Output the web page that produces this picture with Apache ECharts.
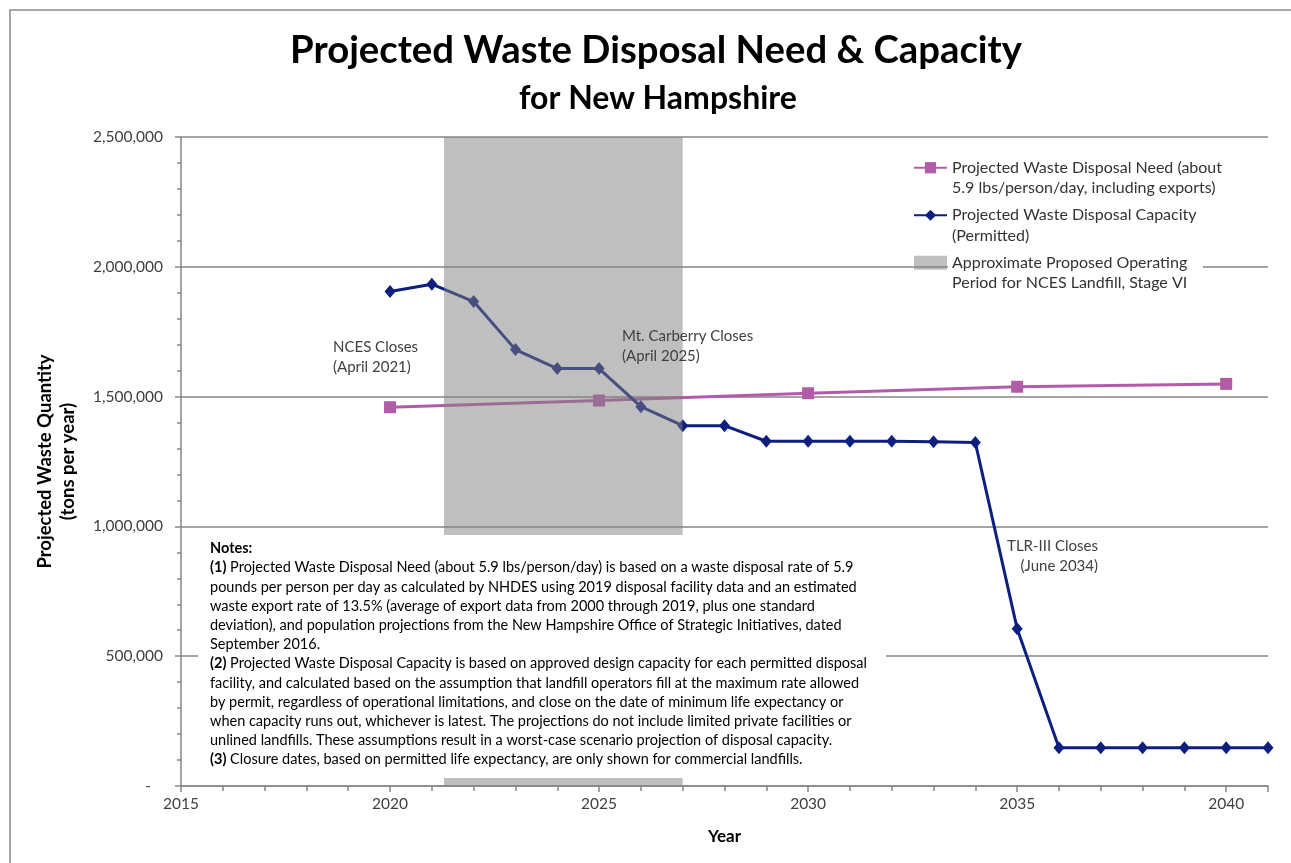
<!DOCTYPE html>
<html lang="en">
<head>
    <meta charset="UTF-8">
    <title>Projected Waste Disposal Need & Capacity</title>
    <style>
        html, body { margin: 0; padding: 0; background: #fff; }
        #chart { width: 1291px; height: 863px; }
    </style>
</head>
<body>
<div id="chart"></div>
<script src="https://cdn.jsdelivr.net/npm/echarts@6/dist/echarts.min.js"></script>
<script>
    // data
    var needYears = [2020, 2025, 2030, 2035, 2040];
    var needValues = [1459000, 1485000, 1513000, 1538000, 1549000];

    var capYears = [2020, 2021, 2022, 2023, 2024, 2025, 2026, 2027, 2028, 2029, 2030,
        2031, 2032, 2033, 2034, 2035, 2036, 2037, 2038, 2039, 2040, 2041];
    var capValues = [1905000, 1933000, 1866000, 1681000, 1608000, 1608000, 1461000, 1388000, 1388000, 1328000, 1328000,
        1328000, 1328000, 1326000, 1323000, 606000, 147000, 147000, 147000, 147000, 147000, 147000];

    // approximate proposed operating period, NCES Stage VI
    var bandPeriod = [2021.29, 2027];

    var needName = 'Projected Waste Disposal Need (about\n5.9 lbs/person/day, including exports)';
    var capName = 'Projected Waste Disposal Capacity\n(Permitted)';
    var bandName = 'Approximate Proposed Operating\nPeriod for NCES Landfill, Stage VI';

    var notesText = [
        '{b|Notes:}',
        '{b|(1)} Projected Waste Disposal Need (about 5.9 lbs/person/day) is based on a waste disposal rate of 5.9',
        'pounds per person per day as calculated by NHDES using 2019 disposal facility data and an estimated',
        'waste export rate of 13.5% (average of export data from 2000 through 2019, plus one standard',
        'deviation), and population projections from the New Hampshire Office of Strategic Initiatives, dated',
        'September 2016.',
        '{b|(2)} Projected Waste Disposal Capacity is based on approved design capacity for each permitted disposal',
        'facility, and calculated based on the assumption that landfill operators fill at the maximum rate allowed',
        'by permit, regardless of operational limitations, and close on the date of minimum life expectancy or',
        'when capacity runs out, whichever is latest. The projections do not include limited private facilities or',
        'unlined landfills. These assumptions result in a worst-case scenario projection of disposal capacity.',
        '{b|(3)} Closure dates, based on permitted life expectancy, are only shown for commercial landfills.'
    ];

    var needData = [];
    for (var i = 0; i < needYears.length; i++) {
        needData.push([needYears[i], needValues[i]]);
    }
    var capData = [];
    for (var j = 0; j < capYears.length; j++) {
        capData.push([capYears[j], capValues[j]]);
    }

    var gridColor = '#868686';
    var font = 'Lato';

    var chart = echarts.init(document.getElementById('chart'));

    var option = {
        backgroundColor: '#fff',
        textStyle: { fontFamily: font },
        animation: false,
        title: [
            {
                text: 'Projected Waste Disposal Need & Capacity',
                left: 290,
                top: 32,
                padding: 0,
                textStyle: { fontFamily: font, fontSize: 38.3, fontWeight: 'bold', color: '#000' }
            },
            {
                text: 'for New Hampshire',
                left: 519,
                top: 83,
                padding: 0,
                textStyle: { fontFamily: font, fontSize: 32, fontWeight: 'bold', color: '#000' }
            }
        ],
        legend: {
            orient: 'vertical',
            left: 913,
            top: 137,
            padding: 0,
            itemWidth: 33,
            itemHeight: 14,
            itemGap: -14,
            formatter: function (name) { return '\n' + name; },
            textStyle: { fontFamily: font, fontSize: 16, color: '#333', lineHeight: 20.5 },
            data: [
                { name: needName },
                { name: capName },
                { name: bandName, icon: 'rect' }
            ]
        },
        grid: { left: 181, right: 23, top: 137, bottom: 77 },
        xAxis: {
            type: 'value',
            min: 2015,
            max: 2041,
            interval: 5,
            name: 'Year',
            nameLocation: 'middle',
            nameGap: 42,
            nameTextStyle: { fontFamily: font, fontSize: 17, fontWeight: 'bold', color: '#000' },
            axisLine: { show: true, lineStyle: { color: gridColor, width: 1.5 } },
            axisTick: { show: true, length: 6, lineStyle: { color: gridColor, width: 1.5 } },
            minorTick: { show: true, splitNumber: 5, length: 5, lineStyle: { color: gridColor, width: 1.5 } },
            axisLabel: {
                color: '#404040', fontSize: 15.5, margin: 10, showMaxLabel: false,
                formatter: function (v) { return String(v); }
            },
            splitLine: { show: false }
        },
        yAxis: {
            type: 'value',
            min: 0,
            max: 2500000,
            interval: 500000,
            name: 'Projected Waste Quantity\n(tons per year)',
            nameLocation: 'middle',
            nameGap: 101,
            nameTextStyle: { fontFamily: font, fontSize: 18.5, fontWeight: 'bold', color: '#000', lineHeight: 23 },
            axisLine: { show: true, lineStyle: { color: gridColor, width: 1.5 } },
            axisTick: { show: true, length: 6, lineStyle: { color: gridColor, width: 1.5 } },
            minorTick: { show: true, splitNumber: 5, length: 4, lineStyle: { color: gridColor, width: 1.5 } },
            axisLabel: {
                color: '#404040', fontSize: 15.5, margin: 18,
                formatter: function (v) {
                    if (v === 0) return '-   ';
                    return v.toString().replace(/\B(?=(\d{3})+(?!\d))/g, ',');
                }
            },
            splitLine: { show: true, lineStyle: { color: gridColor, width: 1.5 } }
        },
        series: [
            {
                name: needName,
                type: 'line',
                data: needData,
                symbol: 'rect',
                symbolSize: 12,
                z: 2,
                lineStyle: { color: '#B25BA9', width: 3 },
                itemStyle: { color: '#B25BA9' }
            },
            {
                name: capName,
                type: 'line',
                data: capData,
                symbol: 'diamond',
                symbolSize: [11, 13],
                z: 2,
                lineStyle: { color: '#0E1F80', width: 3 },
                itemStyle: { color: '#0E1F80' }
            },
            {
                name: bandName,
                type: 'custom',
                z: 3,
                itemStyle: { color: 'rgba(128,128,128,0.5)' },
                data: [[bandPeriod[0], bandPeriod[1]]],
                renderItem: function (params, api) {
                    var p0 = api.coord([api.value(0), 2500000]);
                    var p1 = api.coord([api.value(1), 0]);
                    return {
                        type: 'rect',
                        shape: { x: p0[0], y: p0[1], width: p1[0] - p0[0], height: p1[1] - p0[1] },
                        style: { fill: 'rgba(128,128,128,0.5)' }
                    };
                }
            }
        ],
        graphic: [
            {
                type: 'rect',
                z: 0,
                silent: true,
                shape: { x: 10, y: 10, width: 1300, height: 870 },
                style: { fill: 'none', stroke: '#8c8c8c', lineWidth: 1.5 }
            },
            {
                type: 'rect',
                z: 1,
                silent: true,
                shape: { x: 948, y: 150, width: 255, height: 140 },
                style: { fill: '#fff' }
            },
            {
                type: 'rect',
                z: 10,
                silent: true,
                shape: { x: 198, y: 535, width: 688, height: 243 },
                style: { fill: '#fff' }
            },
            {
                type: 'text',
                z: 11,
                x: 210,
                y: 539,
                style: {
                    text: notesText.join('\n'),
                    fontFamily: font,
                    fontSize: 14.5,
                    lineHeight: 19.2,
                    fill: '#000',
                    textVerticalAlign: 'top',
                    rich: {
                        b: { fontFamily: font, fontSize: 14.5, fontWeight: 'bold', lineHeight: 19.2, fill: '#000' }
                    }
                }
            },
            {
                type: 'text',
                z: 11,
                x: 333,
                y: 357,
                style: {
                    text: 'NCES Closes\n(April 2021)',
                    fontFamily: font, fontSize: 15, lineHeight: 20, fill: '#404040',
                    textAlign: 'left', textVerticalAlign: 'middle'
                }
            },
            {
                type: 'text',
                z: 11,
                x: 622,
                y: 346,
                style: {
                    text: 'Mt. Carberry Closes\n(April 2025)',
                    fontFamily: font, fontSize: 15, lineHeight: 20, fill: '#404040',
                    textAlign: 'left', textVerticalAlign: 'middle'
                }
            },
            {
                type: 'text',
                z: 11,
                x: 1098,
                y: 556,
                style: {
                    text: 'TLR-III Closes\n(June 2034)',
                    fontFamily: font, fontSize: 15, lineHeight: 20, fill: '#404040',
                    textAlign: 'right', textVerticalAlign: 'middle'
                }
            }
        ]
    };
    chart.setOption(option);
</script>
</body>
</html>
